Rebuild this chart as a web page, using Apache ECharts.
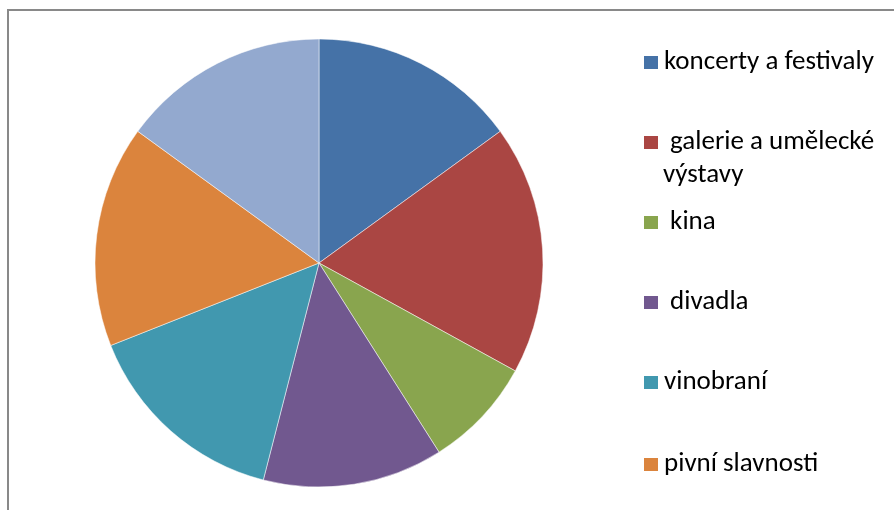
<!DOCTYPE html>
<html>
<head>
<meta charset="utf-8">
<script src="https://cdn.jsdelivr.net/npm/echarts@6/dist/echarts.min.js"></script>
<style>
  html, body { margin: 0; padding: 0; background: #fff; }
  #chart { width: 894px; height: 510px; }
</style>
</head>
<body>
<div id="chart"></div>
<script>
// Categories and shares (%) of the pie
const categories = [
  'koncerty a festivaly',
  'galerie a umělecké výstavy',
  'kina',
  'divadla',
  'vinobraní',
  'pivní slavnosti',
  'ostatní'
];
const shares = [15, 18, 8, 13, 15, 16, 15];
const colors = ['#4572A7', '#AA4643', '#89A54E', '#71588F', '#4198AF', '#DB843D', '#93A9CF'];

// Legend label text (some entries carry a leading space) and vertical centres
const legendLabels = [
  'koncerty a festivaly',
  ' galerie a umělecké',
  ' kina',
  ' divadla',
  'vinobraní',
  'pivní slavnosti'
];
const legendCentres = [62, 142, 222, 302, 382, 464];

const FONT = 'Calibri, Carlito, "Liberation Sans", Arial, sans-serif';
const FONT_SIZE = 27;
const LINE_H = 26;

const chart = echarts.init(document.getElementById('chart'), null, { renderer: 'canvas' });

const legends = legendLabels.map((label, i) => ({
  orient: 'vertical',
  left: 642,
  top: legendCentres[i] - LINE_H / 2,
  padding: 0,
  itemWidth: 16,
  itemHeight: 15,
  itemGap: 0,
  icon: 'rect',
  selectedMode: false,
  data: [categories[i]],
  formatter: () => label,
  textStyle: {
    fontFamily: FONT,
    fontSize: FONT_SIZE,
    color: '#000',
    lineHeight: LINE_H
  }
}));

chart.setOption({
  animation: false,
  color: colors,
  legend: legends,
  graphic: [
    {
      type: 'rect',
      silent: true,
      shape: { x: 8, y: 10, width: 920, height: 540 },
      style: { fill: 'none', stroke: '#898989', lineWidth: 2 }
    },
    {
      type: 'text',
      x: 663,
      y: 175,
      style: {
        text: 'výstavy',
        font: FONT_SIZE + 'px ' + FONT,
        fill: '#000',
        verticalAlign: 'middle'
      }
    }
  ],
  series: [{
    type: 'pie',
    center: [319, 263],
    radius: 224,
    startAngle: 90,
    clockwise: true,
    label: { show: false },
    labelLine: { show: false },
    emphasis: { disabled: true },
    itemStyle: { borderColor: '#fff', borderWidth: 0.5 },
    data: categories.map((name, i) => ({ name, value: shares[i] }))
  }]
});
</script>
</body>
</html>
